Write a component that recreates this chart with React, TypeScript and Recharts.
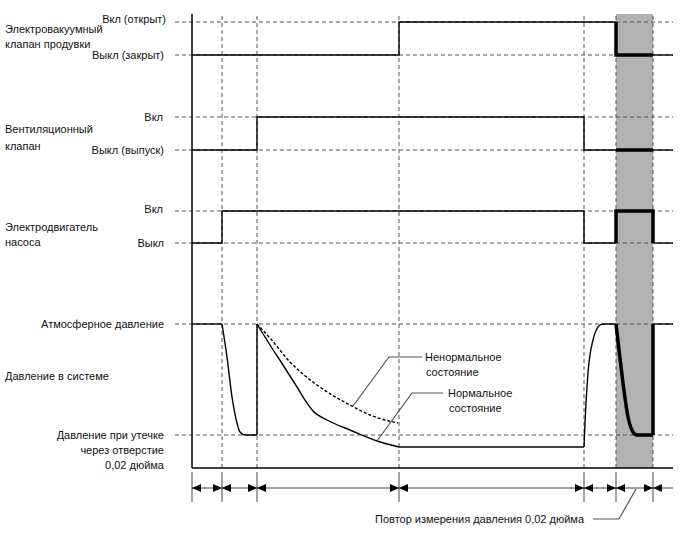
import React from 'react';
import {
  ComposedChart, Line, XAxis, YAxis, ReferenceLine, ReferenceArea, Scatter,
} from 'recharts';

// Time marks (timing-diagram phase boundaries) and end of time axis
const phaseTicks = [0, 30, 65, 207, 392, 424, 461];
const timeEnd = 481;
const retestStart = 424;
const retestEnd = 461;

// Signal levels
const purgeOn = 446, purgeOff = 413;
const ventOn = 351, ventOff = 318;
const pumpOn = 257, pumpOff = 225;
const atmLevel = 144, leakLevel = 33;
const axisTop = 454;
const arrowRow = -20;

// Electro-vacuum purge valve
const purgeThin = [
  { t: 0, v: purgeOff }, { t: 207, v: purgeOff }, { t: 207, v: purgeOn }, { t: 424, v: purgeOn },
];
const purgeThick = [{ t: 424, v: purgeOn }, { t: 424, v: purgeOff }, { t: 461, v: purgeOff }];
const purgeTail = [{ t: 461, v: purgeOff }, { t: 481, v: purgeOff }];

// Vent valve
const ventThin = [
  { t: 0, v: ventOff }, { t: 65, v: ventOff }, { t: 65, v: ventOn }, { t: 392, v: ventOn },
  { t: 392, v: ventOff }, { t: 424, v: ventOff },
];
const ventThick = [{ t: 424, v: ventOff }, { t: 461, v: ventOff }];
const ventTail = [{ t: 461, v: ventOff }, { t: 481, v: ventOff }];

// Pump motor
const pumpThin = [
  { t: 0, v: pumpOff }, { t: 30, v: pumpOff }, { t: 30, v: pumpOn }, { t: 392, v: pumpOn },
  { t: 392, v: pumpOff }, { t: 424, v: pumpOff },
];
const pumpThick = [
  { t: 424, v: pumpOff }, { t: 424, v: pumpOn }, { t: 461, v: pumpOn }, { t: 461, v: pumpOff },
];
const pumpTail = [{ t: 461, v: pumpOff }, { t: 481, v: pumpOff }];

// System pressure (normal), split into straight and curved pieces
const pressureStart = [{ t: 0, v: 144 }, { t: 30, v: 144 }];
const pressureDrop1 = [
  { t: 30, v: 144 }, { t: 35, v: 111 }, { t: 40, v: 71 }, { t: 45, v: 45 },
  { t: 48, v: 36 }, { t: 53, v: 33 }, { t: 65, v: 33 },
];
const pressureJump = [{ t: 65, v: 33 }, { t: 65, v: 144 }];
const pressureNormal = [
  { t: 65, v: 144 }, { t: 78, v: 123 }, { t: 91, v: 103 }, { t: 105, v: 81 }, { t: 115, v: 65 },
  { t: 121, v: 57 }, { t: 135, v: 48 }, { t: 158, v: 38 }, { t: 185, v: 27 }, { t: 207, v: 21 },
];
const pressureFlat = [{ t: 207, v: 21 }, { t: 392, v: 21 }];
const pressureRise = [
  { t: 392, v: 21 }, { t: 393, v: 45 }, { t: 396, v: 95 }, { t: 401, v: 128 }, { t: 408, v: 143 },
  { t: 411, v: 144 }, { t: 424, v: 144 },
];
const pressureThick = [
  { t: 424, v: 144 }, { t: 427, v: 118 }, { t: 431, v: 85 }, { t: 436, v: 51 },
  { t: 441, v: 36 }, { t: 445, v: 33 }, { t: 461, v: 33 },
];
const pressureThickJump = [{ t: 461, v: 33 }, { t: 461, v: 144 }];
const pressureTail = [{ t: 461, v: 144 }, { t: 481, v: 144 }];
// System pressure (abnormal)
const pressureAbnormal = [
  { t: 65, v: 144 }, { t: 78, v: 130 }, { t: 98, v: 106 }, { t: 125, v: 83 }, { t: 158, v: 63 },
  { t: 178, v: 53 }, { t: 206, v: 45 },
];

// Leader lines
const leaderAbnormal = [{ t: 161, v: 62 }, { t: 197, v: 111 }, { t: 230, v: 111 }];
const leaderNormal = [{ t: 185, v: 27 }, { t: 220, v: 75 }, { t: 251, v: 75 }];
const leaderRetest = [{ t: 401, v: -51 }, { t: 427, v: -51 }, { t: 444, v: -21 }];

const levelLines = [purgeOn, purgeOff, ventOn, ventOff, pumpOn, pumpOff, atmLevel, leakLevel];

// Texts
const labels = [
  { t: -26, v: 449, text: 'Вкл (открыт)', anchor: 'end' },
  { t: -187, v: 439, text: 'Электровакуумный', anchor: 'start' },
  { t: -187, v: 424, text: 'клапан продувки', anchor: 'start' },
  { t: -28, v: 413, text: 'Выкл (закрыт)', anchor: 'end' },
  { t: -29, v: 351, text: 'Вкл', anchor: 'end' },
  { t: -187, v: 339, text: 'Вентиляционный', anchor: 'start' },
  { t: -187, v: 322, text: 'клапан', anchor: 'start' },
  { t: -28, v: 318, text: 'Выкл (выпуск)', anchor: 'end' },
  { t: -29, v: 259, text: 'Вкл', anchor: 'end' },
  { t: -187, v: 241, text: 'Электродвигатель', anchor: 'start' },
  { t: -187, v: 226, text: 'насоса', anchor: 'start' },
  { t: -28, v: 225, text: 'Выкл', anchor: 'end' },
  { t: -28, v: 144, text: 'Атмосферное давление', anchor: 'end' },
  { t: -187, v: 92, text: 'Давление в системе', anchor: 'start' },
  { t: -28, v: 33, text: 'Давление при утечке', anchor: 'end' },
  { t: -28, v: 18, text: 'через отверстие', anchor: 'end' },
  { t: -28, v: 3, text: '0,02 дюйма', anchor: 'end' },
  { t: 233, v: 111, text: 'Ненормальное', anchor: 'start' },
  { t: 234, v: 96, text: 'состояние', anchor: 'start' },
  { t: 256, v: 75, text: 'Нормальное', anchor: 'start' },
  { t: 257, v: 60, text: 'состояние', anchor: 'start' },
  { t: 183, v: -51, text: 'Повтор измерения давления 0,02 дюйма', anchor: 'start' },
];

const arrowHeads = [
  ...phaseTicks.slice(1).map((t) => ({ t, v: arrowRow, dir: 'r' })),
  ...phaseTicks.map((t) => ({ t, v: arrowRow, dir: 'l' })),
];

const FONT = 'Arial, "Liberation Sans", Helvetica, sans-serif';

const TextShape = (p: any) => (
  <text
    x={p.cx}
    y={p.cy}
    textAnchor={p.payload.anchor}
    dominantBaseline="central"
    fontFamily={FONT}
    fontSize={11}
    fill="#111"
  >
    {p.payload.text}
  </text>
);

const ArrowShape = (p: any) => {
  const { cx, cy } = p;
  const d = p.payload.dir === 'r'
    ? `M${cx},${cy} L${cx - 9},${cy - 4} L${cx - 9},${cy + 4} Z`
    : `M${cx},${cy} L${cx + 9},${cy - 4} L${cx + 9},${cy + 4} Z`;
  return <path d={d} fill="#000" />;
};

const sig = (data: any[], width: number, key: string, extra: any = {}) => (
  <Line
    key={key}
    data={data}
    dataKey="v"
    type="linear"
    stroke="#000"
    strokeWidth={width}
    dot={false}
    activeDot={false}
    isAnimationActive={false}
    strokeLinejoin="miter"
    {...extra}
  />
);

const curve = { type: 'monotone' };

export default function App() {
  return (
    <div style={{ width: 688, height: 560, background: '#fff' }}>
      <style>{'body{margin:0}'}</style>
      <ComposedChart width={688} height={560} margin={{ top: 0, right: 0, bottom: 0, left: 0 }}>
        <XAxis type="number" dataKey="t" domain={[-192, 496]} hide allowDataOverflow />
        <YAxis type="number" dataKey="v" domain={[-92, 468]} hide allowDataOverflow />
        <ReferenceArea
          x1={retestStart}
          x2={retestEnd}
          y1={0}
          y2={axisTop}
          fill="#b2b2b2"
          fillOpacity={1}
          stroke="none"
          ifOverflow="visible"
        />
        {levelLines.map((lv) => (
          <ReferenceLine
            key={'h' + lv}
            segment={[{ x: -17, y: lv }, { x: timeEnd, y: lv }]}
            stroke="#555"
            strokeWidth={1}
            strokeDasharray="4 3"
            ifOverflow="visible"
          />
        ))}
        {phaseTicks.slice(1).map((t) => (
          <ReferenceLine
            key={'vd' + t}
            segment={[{ x: t, y: 0 }, { x: t, y: axisTop }]}
            stroke="#555"
            strokeWidth={1}
            strokeDasharray="4 3"
            ifOverflow="visible"
          />
        ))}
        {phaseTicks.map((t) => (
          <ReferenceLine
            key={'tk' + t}
            segment={[{ x: t, y: -4 }, { x: t, y: -34 }]}
            stroke="#666"
            strokeWidth={1.2}
            ifOverflow="visible"
          />
        ))}
        <ReferenceLine segment={[{ x: 0, y: arrowRow }, { x: timeEnd, y: arrowRow }]} stroke="#444" strokeWidth={1} ifOverflow="visible" />
        <ReferenceLine segment={[{ x: 0, y: 0 }, { x: 0, y: axisTop }]} stroke="#000" strokeWidth={1.5} ifOverflow="visible" />
        <ReferenceLine segment={[{ x: 0, y: 0 }, { x: timeEnd, y: 0 }]} stroke="#000" strokeWidth={1.5} ifOverflow="visible" />

        {sig(purgeThin, 1.4, 'p1')}
        {sig(purgeThick, 3.5, 'p2')}
        {sig(purgeTail, 1.4, 'p3')}
        {sig(ventThin, 1.4, 'v1')}
        {sig(ventThick, 3.5, 'v2')}
        {sig(ventTail, 1.4, 'v3')}
        {sig(pumpThin, 1.4, 'm1')}
        {sig(pumpThick, 3.5, 'm2')}
        {sig(pumpTail, 1.4, 'm3')}
        {sig(pressureStart, 1.4, 'r0')}
        {sig(pressureDrop1, 1.4, 'r1', curve)}
        {sig(pressureJump, 1.4, 'r2')}
        {sig(pressureNormal, 1.4, 'r3', curve)}
        {sig(pressureFlat, 1.4, 'r4')}
        {sig(pressureRise, 1.4, 'r5', curve)}
        {sig(pressureThick, 3.5, 'r6', curve)}
        {sig(pressureThickJump, 3.5, 'r7')}
        {sig(pressureTail, 1.4, 'r8')}
        {sig(pressureAbnormal, 1.4, 'r9', { ...curve, strokeDasharray: '3 2' })}
        {sig(leaderAbnormal, 1.2, 'l1', { stroke: '#555' })}
        {sig(leaderNormal, 1.2, 'l2', { stroke: '#555' })}
        {sig(leaderRetest, 1.2, 'l3', { stroke: '#555' })}

        <Scatter data={arrowHeads} dataKey="v" shape={ArrowShape} isAnimationActive={false} />
        <Scatter data={labels} dataKey="v" shape={TextShape} isAnimationActive={false} />
      </ComposedChart>
    </div>
  );
}
